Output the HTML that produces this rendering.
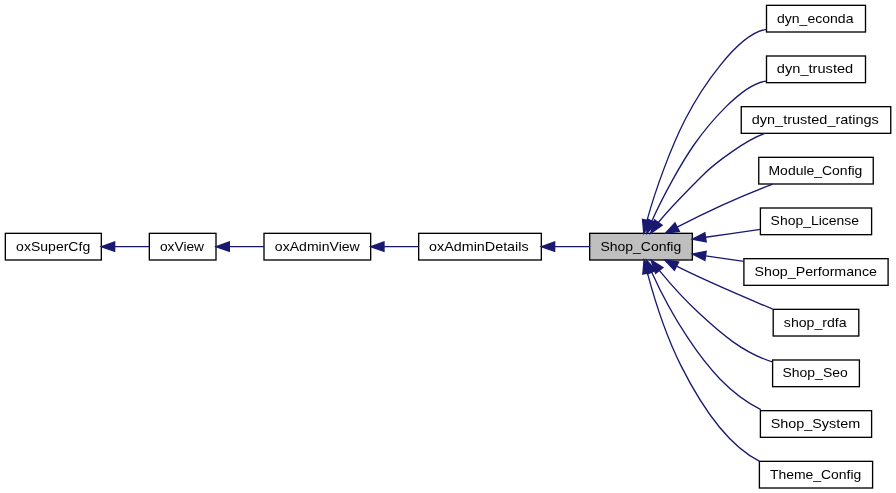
<!DOCTYPE html><html><head><meta charset="utf-8"><style>html,body{margin:0;padding:0;background:#fff;overflow:hidden}svg{display:block;will-change:transform}text{font-family:"Liberation Sans",sans-serif;font-size:13.5px;fill:#000}</style></head><body>
<svg width="896" height="493" viewBox="0 0 896 493">
<rect width="896" height="493" fill="#fff"/>
<rect x="5.33" y="233.33" width="96.00" height="26.67" fill="#fff" stroke="#000" stroke-width="1.333"/>
<rect x="149.33" y="233.33" width="66.67" height="26.67" fill="#fff" stroke="#000" stroke-width="1.333"/>
<rect x="264.00" y="233.33" width="106.67" height="26.67" fill="#fff" stroke="#000" stroke-width="1.333"/>
<rect x="418.67" y="233.33" width="122.66" height="26.67" fill="#fff" stroke="#000" stroke-width="1.333"/>
<rect x="589.67" y="233.33" width="102.66" height="26.67" fill="#bfbfbf" stroke="#000" stroke-width="1.333"/>
<rect x="766.50" y="5.33" width="99.00" height="26.67" fill="#fff" stroke="#000" stroke-width="1.333"/>
<rect x="766.50" y="56.00" width="99.00" height="26.67" fill="#fff" stroke="#000" stroke-width="1.333"/>
<rect x="741.25" y="106.67" width="149.50" height="26.67" fill="#fff" stroke="#000" stroke-width="1.333"/>
<rect x="758.75" y="157.33" width="114.50" height="26.67" fill="#fff" stroke="#000" stroke-width="1.333"/>
<rect x="760.40" y="208.00" width="111.20" height="26.67" fill="#fff" stroke="#000" stroke-width="1.333"/>
<rect x="743.90" y="258.67" width="144.20" height="26.67" fill="#fff" stroke="#000" stroke-width="1.333"/>
<rect x="773.20" y="309.34" width="85.60" height="26.67" fill="#fff" stroke="#000" stroke-width="1.333"/>
<rect x="772.60" y="360.00" width="86.80" height="26.67" fill="#fff" stroke="#000" stroke-width="1.333"/>
<rect x="760.40" y="410.67" width="111.20" height="26.67" fill="#fff" stroke="#000" stroke-width="1.333"/>
<rect x="759.40" y="461.34" width="113.20" height="26.67" fill="#fff" stroke="#000" stroke-width="1.333"/>
<text x="16.13" y="250.77" textLength="74.06" lengthAdjust="spacingAndGlyphs">oxSuperCfg</text>
<text x="159.96" y="250.77" textLength="44.10" lengthAdjust="spacingAndGlyphs">oxView</text>
<text x="274.89" y="250.77" textLength="84.87" lengthAdjust="spacingAndGlyphs">oxAdminView</text>
<text x="429.08" y="250.77" textLength="99.54" lengthAdjust="spacingAndGlyphs">oxAdminDetails</text>
<text x="600.48" y="250.77" textLength="80.78" lengthAdjust="spacingAndGlyphs">Shop_Config</text>
<text x="776.96" y="22.77" textLength="76.52" lengthAdjust="spacingAndGlyphs">dyn_econda</text>
<text x="776.89" y="73.44" textLength="76.36" lengthAdjust="spacingAndGlyphs">dyn_trusted</text>
<text x="751.80" y="124.10" textLength="127.06" lengthAdjust="spacingAndGlyphs">dyn_trusted_ratings</text>
<text x="768.49" y="174.77" textLength="93.90" lengthAdjust="spacingAndGlyphs">Module_Config</text>
<text x="770.59" y="225.44" textLength="88.42" lengthAdjust="spacingAndGlyphs">Shop_License</text>
<text x="754.58" y="276.10" textLength="122.46" lengthAdjust="spacingAndGlyphs">Shop_Performance</text>
<text x="783.88" y="326.77" textLength="62.74" lengthAdjust="spacingAndGlyphs">shop_rdfa</text>
<text x="782.50" y="377.44" textLength="65.24" lengthAdjust="spacingAndGlyphs">Shop_Seo</text>
<text x="770.66" y="428.10" textLength="89.59" lengthAdjust="spacingAndGlyphs">Shop_System</text>
<text x="769.94" y="478.77" textLength="91.34" lengthAdjust="spacingAndGlyphs">Theme_Config</text>
<g fill="none" stroke="#191970" stroke-width="1.333">
<path d="M149.33,246.67 L114.66,246.67"/>
<path d="M264.00,246.67 L229.33,246.67"/>
<path d="M418.67,246.67 L384.00,246.67"/>
<path d="M589.67,246.67 L554.66,246.67"/>
<path d="M766.50,29.30 C737.01,33.68 700.13,90.19 685.15,119.52 C671.94,145.38 656.12,186.99 647.06,220.40"/>
<path d="M766.40,81.10 C742.00,83.51 707.60,125.29 693.53,145.50 C681.59,162.66 662.91,196.13 651.88,221.00"/>
<path d="M765.20,133.40 C747.73,138.95 715.64,162.23 701.77,176.16 C690.75,187.22 670.67,207.04 658.33,222.46"/>
<path d="M772.70,184.10 C738.74,196.84 708.17,210.94 677.15,227.10"/>
<path d="M772.70,309.10 C740.17,295.26 707.78,281.91 676.53,266.13"/>
<path d="M772.40,361.80 C743.58,353.28 720.64,333.30 699.18,313.36 C684.98,300.18 671.67,285.64 659.29,270.44"/>
<path d="M760.80,409.60 C729.58,394.02 707.26,367.17 688.21,338.47 C674.25,317.46 662.11,295.24 651.71,272.21"/>
<path d="M759.30,461.10 C725.62,444.21 697.90,399.40 680.94,365.63 C667.75,339.37 655.86,304.66 647.38,272.92"/>
<path d="M760.30,229.30 C742.04,231.96 723.78,234.62 705.52,237.28"/>
<path d="M743.80,261.30 C731.04,259.48 718.28,257.67 705.52,255.85"/>
</g>
<g fill="#191970" stroke="#191970" stroke-width="1.333">
<polygon points="114.66,242.00 101.33,246.67 114.66,251.34"/>
<polygon points="229.33,242.00 216.00,246.67 229.33,251.34"/>
<polygon points="384.00,242.00 370.67,246.67 384.00,251.34"/>
<polygon points="554.66,242.00 541.33,246.67 554.66,251.34"/>
<polygon points="651.58,221.54 643.80,233.32 642.53,219.26"/>
<polygon points="656.20,222.78 646.80,233.32 647.57,219.22"/>
<polygon points="662.14,225.16 650.61,233.32 654.53,219.75"/>
<polygon points="679.33,231.23 665.36,233.33 674.97,222.98"/>
<polygon points="674.38,270.28 664.69,260.01 678.67,261.99"/>
<polygon points="655.63,273.34 651.00,260.00 662.94,267.54"/>
<polygon points="647.43,274.08 646.38,259.99 655.98,270.35"/>
<polygon points="642.86,274.07 644.08,260.00 651.90,271.76"/>
<polygon points="706.19,241.89 692.33,239.20 704.85,232.66"/>
<polygon points="704.86,260.47 692.32,253.97 706.17,251.23"/>
</g>
</svg></body></html>
